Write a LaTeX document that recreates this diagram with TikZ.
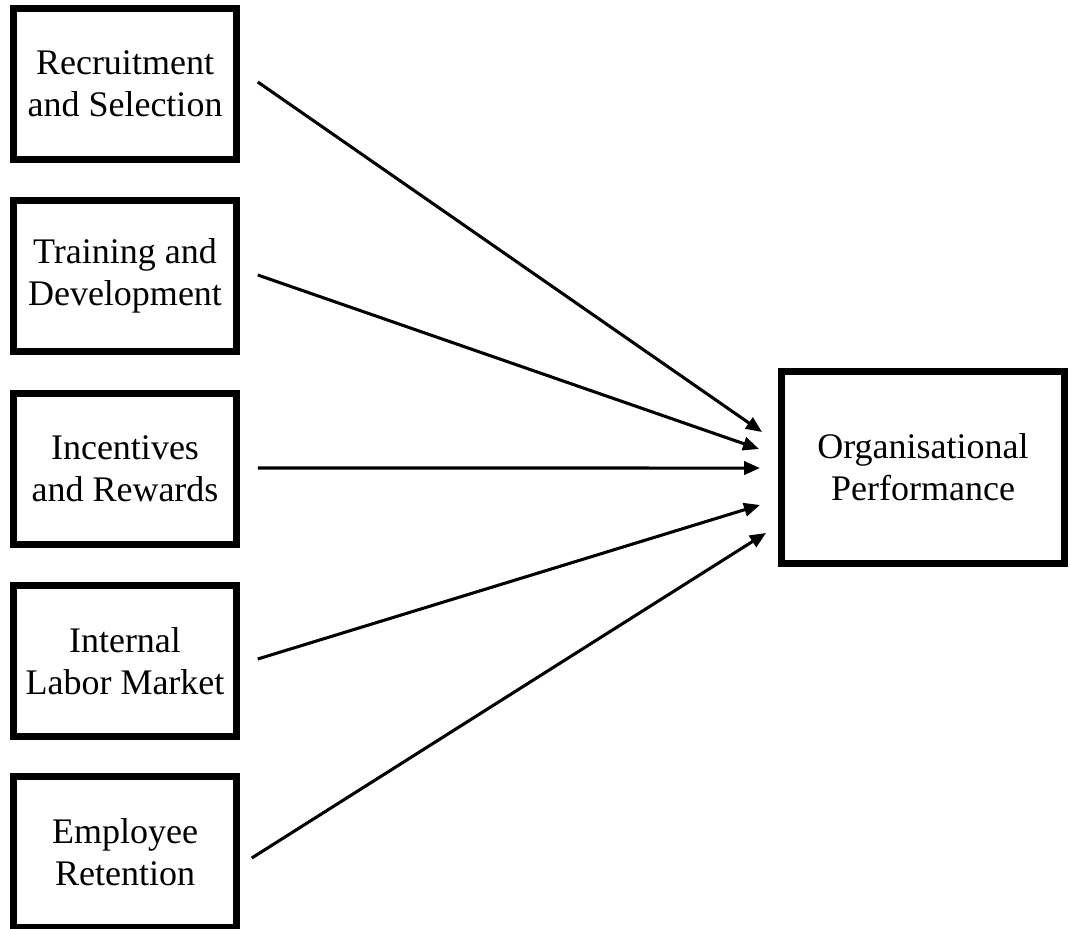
\documentclass[tikz,border=0pt]{standalone}
\usepackage{fontspec}
\setmainfont{Liberation Serif}
\usetikzlibrary{arrows.meta}

\begin{document}
\begin{tikzpicture}[x=0.75pt,y=-0.75pt]

      \useasboundingbox (0,0) rectangle (1070,928);

      \begin{scope}[every node/.style={rectangle,draw,line width=5.25pt,align=center,
          inner sep=0pt,font=\fontsize{27}{31.5}\selectfont}]
        \node[minimum width=166.9pt,minimum height=113.25pt] (1) at (125,84)  {Recruitment\\and Selection};
        \node[minimum width=166.9pt,minimum height=113.25pt] (2) at (125,276) {Training and\\Development};
        \node[minimum width=166.9pt,minimum height=113.25pt] (3) at (125,469) {Incentives\\and Rewards};
        \node[minimum width=166.9pt,minimum height=113.25pt] (4) at (125,661) {Internal\\Labor Market};
        \node[minimum width=166.9pt,minimum height=113.25pt] (5) at (125,852) {Employee\\Retention};
        \node[minimum width=212.25pt,minimum height=144pt] (6) at (923,467.5) {Organisational\\Performance};
      \end{scope}

      \begin{scope}[every edge/.style={draw,line width=2.3pt,-{Triangle[length=12pt,width=10pt]}}]
        \path ([xshift=13.5pt,yshift=1.5pt]1.east) edge ([xshift=-12pt,yshift=26.6pt]6.west);
        \path ([xshift=13.5pt,yshift=0.75pt]2.east) edge ([xshift=-14.25pt,yshift=13.9pt]6.west);
        \path ([xshift=13.5pt,yshift=0.75pt]3.east) edge ([xshift=-13.5pt,yshift=-0.4pt]6.west);
        \path ([xshift=13.5pt,yshift=1.5pt]4.east) edge ([xshift=-13.5pt,yshift=-28.1pt]6.west);
        \path ([xshift=9pt,yshift=-4.5pt]5.east) edge ([xshift=-9pt,yshift=-49.1pt]6.west);
      \end{scope}

    \end{tikzpicture}
\end{document}
